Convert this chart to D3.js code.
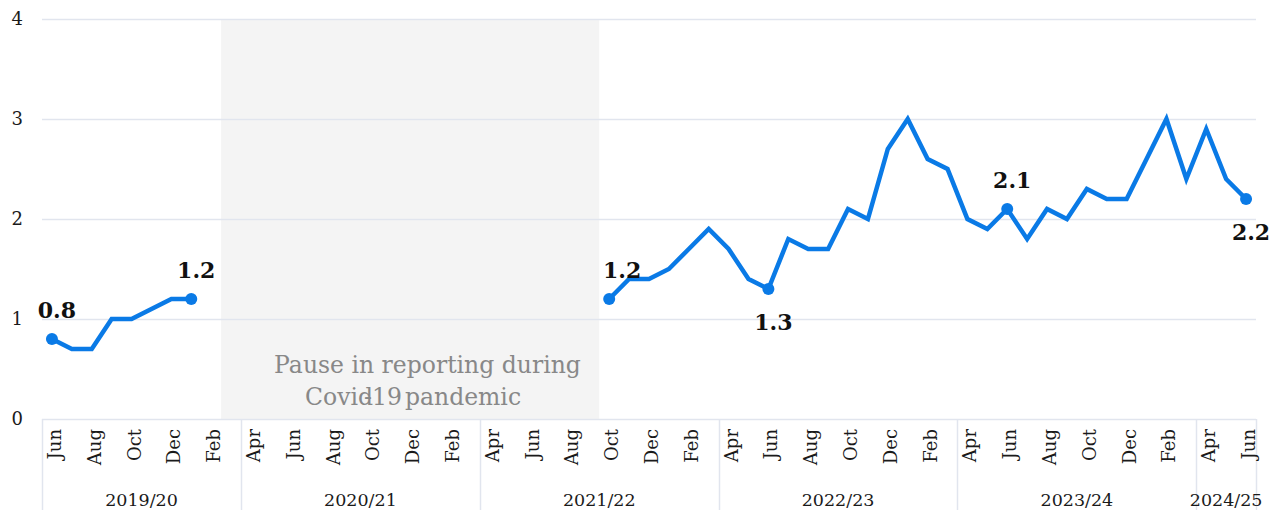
<!DOCTYPE html>
<html>
<head>
<meta charset="utf-8">
<script src="https://cdn.jsdelivr.net/npm/d3@7"></script>
<style>
  body { margin: 0; background: #fff; }
  svg { display: block; font-family: 'DejaVu Serif', serif; }
</style>
</head>
<body>
<svg id="chart" width="1281" height="510"></svg>
<script>
const months = [
  'Jun 2019', 'Jul 2019', 'Aug 2019', 'Sep 2019', 'Oct 2019', 'Nov 2019', 'Dec 2019', 'Jan 2020', 'Feb 2020', 'Mar 2020',
  'Apr 2020', 'May 2020', 'Jun 2020', 'Jul 2020', 'Aug 2020', 'Sep 2020', 'Oct 2020', 'Nov 2020', 'Dec 2020', 'Jan 2021', 'Feb 2021', 'Mar 2021',
  'Apr 2021', 'May 2021', 'Jun 2021', 'Jul 2021', 'Aug 2021', 'Sep 2021', 'Oct 2021', 'Nov 2021', 'Dec 2021', 'Jan 2022', 'Feb 2022', 'Mar 2022',
  'Apr 2022', 'May 2022', 'Jun 2022', 'Jul 2022', 'Aug 2022', 'Sep 2022', 'Oct 2022', 'Nov 2022', 'Dec 2022', 'Jan 2023', 'Feb 2023', 'Mar 2023',
  'Apr 2023', 'May 2023', 'Jun 2023', 'Jul 2023', 'Aug 2023', 'Sep 2023', 'Oct 2023', 'Nov 2023', 'Dec 2023', 'Jan 2024', 'Feb 2024', 'Mar 2024',
  'Apr 2024', 'May 2024', 'Jun 2024'
]
// month ticks that get a label
const tickMonths = ['Jun', 'Aug', 'Oct', 'Dec', 'Feb', 'Apr']

const fiscalYears = ['2019/20', '2020/21', '2021/22', '2022/23', '2023/24', '2024/25']
const fiscalStart = ['Jun 2019', 'Apr 2020', 'Apr 2021', 'Apr 2022', 'Apr 2023', 'Apr 2024']
const fiscalEnd = ['Mar 2020', 'Mar 2021', 'Mar 2022', 'Mar 2023', 'Mar 2024', 'Jun 2024']

// before the pause
const months1 = ['Jun 2019', 'Jul 2019', 'Aug 2019', 'Sep 2019', 'Oct 2019', 'Nov 2019', 'Dec 2019', 'Jan 2020']
const values1 = [0.8, 0.7, 0.7, 1.0, 1.0, 1.1, 1.2, 1.2]

// after the pause
const months2 = months.slice(months.indexOf('Oct 2021'))
const values2 = [
  1.2, 1.4, 1.4, 1.5, 1.7, 1.9,
  1.7, 1.4, 1.3, 1.8, 1.7, 1.7, 2.1, 2.0, 2.7, 3.0, 2.6, 2.5,
  2.0, 1.9, 2.1, 1.8, 2.1, 2.0, 2.3, 2.2, 2.2, 2.6, 3.0, 2.4,
  2.9, 2.4, 2.2
]

const pauseFrom = 'Mar 2020'
const pauseTo = 'Sep 2021'

// labelled points: month, above/below
const labelMonths = ['Jun 2019', 'Jan 2020', 'Oct 2021', 'Jun 2022', 'Jun 2023', 'Jun 2024']
const labelSide = ['above', 'above', 'above', 'below', 'above', 'below']

const yTicks = [0, 1, 2, 3, 4]

const marginLeft = 42
const marginRight = 25
const marginTop = 19
const marginBottom = 91
const width = 1281
const height = 510
const blue = '#0a7ae6'
const gridColor = '#e1e5ee'
const textColor = '#1a1a1a'

const svg = d3.select('#chart')

const x = d3.scaleBand().domain(months).range([marginLeft, width - marginRight]).padding(0)
const y = d3.scaleLinear().domain([0, 4]).range([height - marginBottom, marginTop])
const cx = (m) => x(m) + x.bandwidth() / 2

// pause band
const bandX = x(pauseFrom)
svg.append('rect')
  .attr('x', bandX)
  .attr('y', y(4))
  .attr('width', x(pauseTo) + x.bandwidth() - bandX)
  .attr('height', y(0) - y(4))
  .attr('fill', '#f4f4f4')

// grid
svg.append('g')
  .selectAll('line')
  .data(yTicks)
  .join('line')
  .attr('x1', marginLeft)
  .attr('x2', width - marginRight)
  .attr('y1', (d) => Math.round(y(d)) + 0.5)
  .attr('y2', (d) => Math.round(y(d)) + 0.5)
  .attr('stroke', gridColor)
  .attr('stroke-width', 1.5)

// y labels
svg.append('g')
  .selectAll('text')
  .data(yTicks)
  .join('text')
  .attr('x', 23)
  .attr('y', (d) => y(d))
  .attr('dy', '0.36em')
  .attr('text-anchor', 'end')
  .attr('font-size', 18)
  .attr('fill', textColor)
  .text((d) => d)

// pause text
const pause = svg.append('g')
  .attr('font-size', 23.5)
  .attr('fill', '#888')
pause.append('text')
  .attr('x', bandX + 53)
  .attr('y', 373)
  .text('Pause in reporting during')
const covid = pause.append('text')
  .attr('x', bandX + 84)
  .attr('y', 405)
covid.append('tspan').text('Covid')
covid.append('tspan').attr('dx', -9).text('-')
covid.append('tspan').attr('dx', 0).text('19')
covid.append('tspan').attr('dx', 3).text('pandemic')

// group separators
const groupEdges = fiscalStart.map((m) => x(m)).concat([width - marginRight])
svg.append('g')
  .selectAll('line')
  .data(groupEdges)
  .join('line')
  .attr('x1', (d) => Math.round(d) + 0.5)
  .attr('x2', (d) => Math.round(d) + 0.5)
  .attr('y1', y(0))
  .attr('y2', height)
  .attr('stroke', gridColor)
  .attr('stroke-width', 1.5)

// month labels
svg.append('g')
  .selectAll('text')
  .data(months.filter((m) => tickMonths.includes(m.slice(0, 3))))
  .join('text')
  .attr('transform', (m) => `translate(${cx(m) + 9},${y(0) + 10}) rotate(-90)`)
  .attr('text-anchor', 'end')
  .attr('font-size', 18)
  .attr('fill', textColor)
  .text((m) => m.slice(0, 3))

// fiscal year labels
svg.append('g')
  .selectAll('text')
  .data(fiscalYears)
  .join('text')
  .attr('x', (d, i) => (x(fiscalStart[i]) + x(fiscalEnd[i]) + x.bandwidth()) / 2)
  .attr('y', 506)
  .attr('text-anchor', 'middle')
  .attr('font-size', 17.5)
  .attr('fill', textColor)
  .text((d) => d)

// lines
const line = d3.line().x((d) => cx(d[0])).y((d) => y(d[1]))
const seg1 = months1.map((m, i) => [m, values1[i]])
const seg2 = months2.map((m, i) => [m, values2[i]])
svg.append('g')
  .selectAll('path')
  .data([seg1, seg2])
  .join('path')
  .attr('d', line)
  .attr('fill', 'none')
  .attr('stroke', blue)
  .attr('stroke-width', 4.5)
  .attr('stroke-linejoin', 'miter')

// labelled points
const allPoints = new Map(seg1.concat(seg2))
const labelled = labelMonths.map((m, i) => ({ m, v: allPoints.get(m), side: labelSide[i] }))

svg.append('g')
  .selectAll('circle')
  .data(labelled)
  .join('circle')
  .attr('cx', (d) => cx(d.m))
  .attr('cy', (d) => y(d.v))
  .attr('r', 6)
  .attr('fill', blue)

svg.append('g')
  .selectAll('text')
  .data(labelled)
  .join('text')
  .attr('x', (d) => cx(d.m) + (d.m === 'Oct 2021' ? 13 : 5))
  .attr('y', (d) => y(d.v) + (d.side === 'above' ? -21 : 41))
  .attr('text-anchor', 'middle')
  .attr('font-size', 22)
  .attr('font-weight', 'bold')
  .attr('fill', '#111')
  .text((d) => d3.format('.1f')(d.v))
</script>
</body>
</html>
